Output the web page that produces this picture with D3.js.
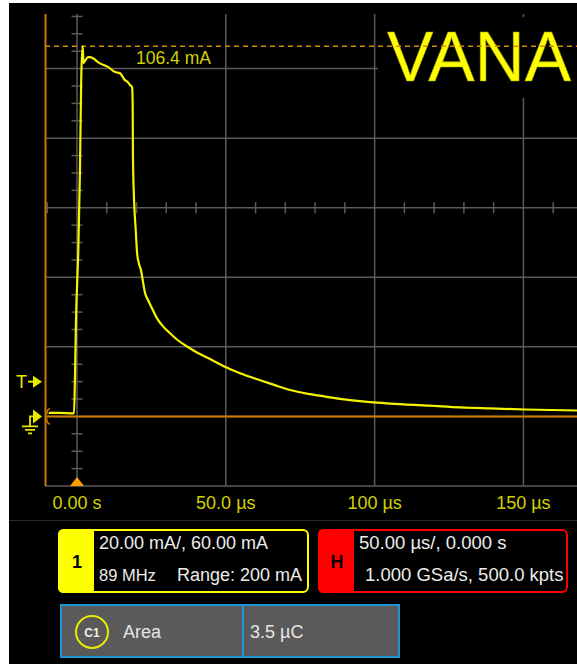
<!DOCTYPE html>
<html><head><meta charset="utf-8">
<script src="https://cdn.jsdelivr.net/npm/d3@7"></script>
<style>html,body{margin:0;padding:0;background:#fff;} svg{display:block;}</style>
</head><body>
<svg id="c" width="577" height="664"></svg>
<script>
// ---- data ----
const timeUs = [-9.5, -6, -1.0, -0.67, -0.34, 0.44, 1.0, 1.44, 1.92, 2.18, 2.69, 3.7, 4.37, 7.7, 10.4, 12.8, 14.4, 16.1, 17.1, 17.8, 18.5, 18.7, 18.8, 19.2, 19.7, 20.2, 20.8, 21.5, 22.2, 22.8, 23.9, 25.2, 26.9, 28.9, 31.3, 33.9, 37.0, 40.3, 44.7, 49.7, 54.8, 61.5, 66.5, 71.6, 78.3, 85.0, 91.7, 98.5, 105.2, 118.6, 128.7, 138.8, 150.5, 168];
const currentMa = [1.0, 1.0, 0.9, 11.8, 27.6, 47.8, 70.8, 98.1, 106.4, 101.6, 102.2, 103.3, 103.3, 101.5, 100.5, 99.0, 98.7, 96.7, 96.1, 95.3, 94.7, 90.4, 75.1, 61.6, 54.1, 46.9, 44.0, 42.0, 38.6, 35.7, 33.4, 31.1, 28.2, 25.9, 23.9, 21.9, 20.1, 18.4, 16.5, 14.3, 12.4, 10.4, 9.0, 7.6, 6.4, 5.5, 4.7, 4.1, 3.7, 3.1, 2.6, 2.3, 2.0, 1.7];
const xTickValues = [0, 50, 100, 150];
const xTickLabels = ["0.00 s", "50.0 µs", "100 µs", "150 µs"];
const yGridValues = [-20, 0, 20, 40, 60, 80, 100];
const markerValue = 106.4;
const markerLabel = "106.4 mA";
const triggerLevel = 10;
const titleText = "VANA";
const channelLabel = "1";
const channelLines = ["20.00 mA/, 60.00 mA", "89 MHz", "Range: 200 mA"];
const horizLabel = "H";
const horizLines = ["50.00 µs/, 0.000 s", "1.000 GSa/s, 500.0 kpts"];
const measTag = "C1";
const measName = "Area";
const measValue = "3.5 µC";

// ---- drawing ----
const FONT = "'Liberation Sans', Arial, sans-serif";
const svg = d3.select("#c");
const x = d3.scaleLinear().domain([-10.75, 168]).range([45, 577]);
const y = d3.scaleLinear().domain([-20, 115.7]).range([486, 14]);
const [X0, X1] = x.range();
const Ytop = 14, Ybot = 486;

svg.append("rect").attr("x", 9).attr("y", 3).attr("width", 568).attr("height", 661).attr("fill", "#000");

const grid = svg.append("g").attr("stroke", "#5a5a5a").attr("stroke-width", 1.5);
grid.selectAll("line.v").data(xTickValues).join("line")
  .attr("x1", d => x(d)).attr("x2", d => x(d)).attr("y1", Ytop).attr("y2", Ybot);
grid.selectAll("line.h").data(yGridValues).join("line")
  .attr("x1", X0).attr("x2", X1).attr("y1", d => y(d)).attr("y2", d => y(d));
const vMinor = d3.range(-20, 116, 5).filter(v => v % 20 !== 0);
grid.selectAll("line.vm").data(vMinor).join("line")
  .attr("x1", x(0) - 5.5).attr("x2", x(0) + 5.5).attr("y1", d => y(d)).attr("y2", d => y(d));
const hMinor = d3.range(-10, 168, 10).filter(v => v % 50 !== 0);
grid.selectAll("line.hm").data(hMinor).join("line")
  .attr("x1", d => x(d)).attr("x2", d => x(d)).attr("y1", y(60) - 5.5).attr("y2", y(60) + 5.5);

// title box
svg.append("rect").attr("x", 378).attr("y", 17).attr("width", 199).attr("height", 81).attr("fill", "#000");
svg.append("text").attr("x", 387).attr("y", 81).attr("font-family", FONT).attr("font-size", 69.5)
  .attr("fill", "#ffff00").attr("stroke", "#9a9a00").attr("stroke-width", 0.6).text(titleText);

// orange frame lines
svg.append("line").attr("x1", X0 + 0.5).attr("x2", X0 + 0.5).attr("y1", Ytop).attr("y2", Ybot)
  .attr("stroke", "#c97a00").attr("stroke-width", 2);
svg.append("line").attr("x1", X0).attr("x2", X1).attr("y1", y(0)).attr("y2", y(0))
  .attr("stroke", "#c97a00").attr("stroke-width", 2);
svg.append("line").attr("x1", X0).attr("x2", X1).attr("y1", y(markerValue)).attr("y2", y(markerValue))
  .attr("stroke", "#d88a00").attr("stroke-width", 1.5).attr("stroke-dasharray", "5,4");
svg.append("text").attr("x", 136).attr("y", 64).attr("font-family", FONT).attr("font-size", 17.5)
  .attr("fill", "#d2d200").text(markerLabel);

// trace
const pts = timeUs.map((t, i) => [t, currentMa[i]]);
svg.append("path").datum(pts)
  .attr("d", d3.line().x(d => x(d[0])).y(d => y(d[1])).curve(d3.curveMonotoneX))
  .attr("fill", "none").attr("stroke", "#f4f400").attr("stroke-width", 2.2).attr("stroke-linejoin", "round");

// ground bracket (orange)
svg.append("path").attr("d", `M50,${y(0)-8} Q46,${y(0)-6} 47,${y(0)-2} M47,${y(0)+2} Q46,${y(0)+6} 50,${y(0)+8}`)
  .attr("fill", "none").attr("stroke", "#c97a00").attr("stroke-width", 1.5);

// trigger marker "T"
const ty = y(triggerLevel);
svg.append("text").attr("x", 16).attr("y", ty + 6.5).attr("font-family", FONT).attr("font-size", 18)
  .attr("fill", "#e8e800").text("T");
svg.append("line").attr("x1", 28).attr("x2", 35).attr("y1", ty).attr("y2", ty).attr("stroke", "#e8e800").attr("stroke-width", 2);
svg.append("path").attr("d", `M33,${ty-6} L42,${ty} L33,${ty+6} Z`).attr("fill", "#e8e800");

// ground marker
const gy = y(0);
svg.append("path").attr("d", `M33,${gy-7} L42,${gy} L33,${gy+7} Z`).attr("fill", "#e8e800");
svg.append("path").attr("d", `M34,${gy} L30,${gy} L30,${gy+9} M22,${gy+10} L38,${gy+10} M25,${gy+13.5} L35,${gy+13.5} M28,${gy+17} L32,${gy+17}`)
  .attr("fill", "none").attr("stroke", "#e8e800").attr("stroke-width", 1.8);

// time reference triangle
svg.append("path").attr("d", `M${x(0)-7},${Ybot} L${x(0)},${Ybot-9} L${x(0)+7},${Ybot} Z`).attr("fill", "#ffa000");

// x tick labels
svg.selectAll("text.xl").data(xTickValues).join("text")
  .attr("x", d => x(d)).attr("y", 509).attr("text-anchor", "middle")
  .attr("font-family", FONT).attr("font-size", 18).attr("fill", "#d2d200")
  .text((d, i) => xTickLabels[i]);

svg.append("line").attr("x1", 9).attr("x2", 577).attr("y1", 520.5).attr("y2", 520.5).attr("stroke", "#2a2a2a").attr("stroke-width", 1);

function infoBox(x0, w, color, label) {
  const g = svg.append("g");
  g.append("rect").attr("x", x0).attr("y", 530).attr("width", w).attr("height", 62).attr("rx", 5)
    .attr("fill", "#000").attr("stroke", color).attr("stroke-width", 2);
  g.append("path").attr("d", `M${x0+35},529 L${x0+5},529 Q${x0-1},529 ${x0-1},535 L${x0-1},587 Q${x0-1},593 ${x0+5},593 L${x0+35},593 Z`).attr("fill", color);
  g.append("text").attr("x", x0 + 18).attr("y", 568).attr("text-anchor", "middle")
    .attr("font-family", FONT).attr("font-size", 18).attr("font-weight", "bold").attr("fill", "#000").text(label);
  return g;
}
const g1 = infoBox(59, 249, "#ffff00", channelLabel);
g1.append("text").attr("x", 99).attr("y", 549).attr("font-family", FONT).attr("font-size", 18).attr("fill", "#ececec").text(channelLines[0]);
g1.append("text").attr("x", 99).attr("y", 581).attr("font-family", FONT).attr("font-size", 16.5).attr("fill", "#ececec").text(channelLines[1]);
g1.append("text").attr("x", 302).attr("y", 581).attr("text-anchor", "end").attr("font-family", FONT).attr("font-size", 18).attr("fill", "#ececec").text(channelLines[2]);
const g2 = infoBox(319, 248, "#ff0000", horizLabel);
g2.append("text").attr("x", 359).attr("y", 549).attr("font-family", FONT).attr("font-size", 18.5).attr("fill", "#ececec").text(horizLines[0]);
g2.append("text").attr("x", 365).attr("y", 581).attr("font-family", FONT).attr("font-size", 18.5).attr("fill", "#ececec").text(horizLines[1]);

const mt = svg.append("g");
mt.append("rect").attr("x", 61).attr("y", 605).attr("width", 338).attr("height", 52).attr("fill", "#5a5a5a")
  .attr("stroke", "#1e96d2").attr("stroke-width", 2);
mt.append("line").attr("x1", 243).attr("x2", 243).attr("y1", 605).attr("y2", 657).attr("stroke", "#1e96d2").attr("stroke-width", 2);
mt.append("circle").attr("cx", 92).attr("cy", 632).attr("r", 16).attr("fill", "none").attr("stroke", "#e8e800").attr("stroke-width", 2);
mt.append("text").attr("x", 92).attr("y", 636.5).attr("text-anchor", "middle").attr("font-family", FONT).attr("font-size", 12).attr("font-weight", "bold").attr("fill", "#eee").text(measTag);
mt.append("text").attr("x", 123).attr("y", 638).attr("font-family", FONT).attr("font-size", 18).attr("fill", "#e6e6e6").text(measName);
mt.append("text").attr("x", 250).attr("y", 638).attr("font-family", FONT).attr("font-size", 18).attr("fill", "#e6e6e6").text(measValue);
</script>
</body></html>
